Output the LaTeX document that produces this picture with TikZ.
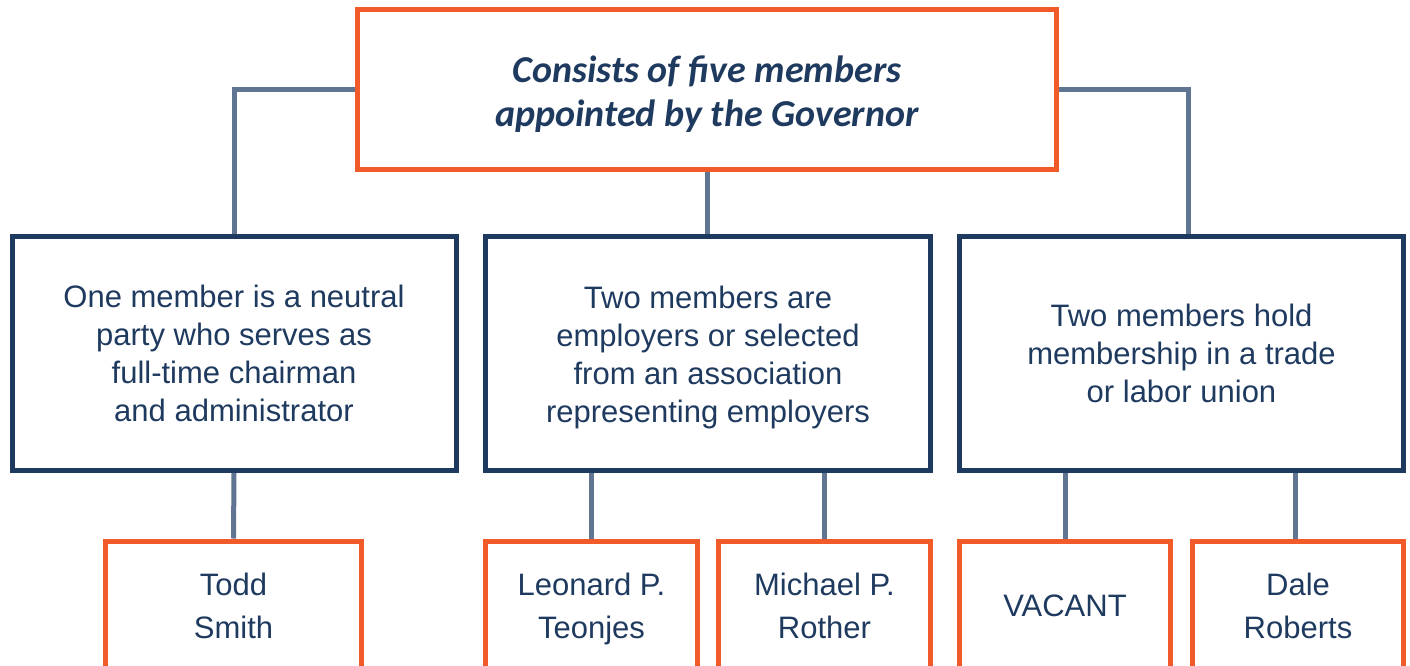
\documentclass[tikz,border=0pt]{standalone}
\usepackage{fontspec}
\setmainfont{Liberation Sans}
\newfontfamily\titlefont{Carlito}
\definecolor{boardorange}{HTML}{F15A29}
\definecolor{boardnavy}{HTML}{1F3A5F}
\definecolor{boardlink}{HTML}{5F7591}
\newcommand{\lift}[1]{\rule{0pt}{#1}}
\begin{document}
\begin{tikzpicture}[x=1pt,y=-1pt,
            headbox/.style={draw=boardorange,line width=5pt,minimum width=699pt,minimum height=160pt,
              text=boardnavy,align=center,font=\titlefont\bfseries\itshape\fontsize{38}{44}\selectfont},
            groupbox/.style={draw=boardnavy,line width=5pt,minimum width=444pt,minimum height=234pt,
              text=boardnavy,align=center,font=\fontsize{31}{38}\selectfont},
            namebox/.style={draw=boardorange,line width=5pt,minimum height=130pt,
              text=boardnavy,align=center,font=\fontsize{31}{43}\selectfont},
            link/.style={draw=boardlink,line width=5pt}]
            \useasboundingbox (0,0) rectangle (1410,666);
            \clip (0,0) rectangle (1410,666);
            % governor box
            \node[headbox] (board) at (707,89.5) {\lift{35pt}Consists of five members\\appointed by the Governor};
            % groups
            \node[groupbox] (neutral) at (234,353.5) {One member is a neutral\\party who serves as\\full-time chairman\\and administrator};
            \node[groupbox,minimum width=445pt] (employers) at (708,353.5) {\lift{31pt}Two members are\\employers or selected\\from an association\\representing employers};
            \node[groupbox] (labor) at (1181.5,353.5) {Two members hold\\membership in a trade\\or labor union};
            % members
            \node[namebox,minimum width=256pt] (smith) at (233.5,606) {Todd\\Smith};
            \node[namebox,minimum width=212pt] (teonjes) at (591.5,606) {\lift{29pt}Leonard P.\\Teonjes};
            \node[namebox,minimum width=212pt] (rother) at (824.5,606) {Michael P.\\Rother};
            \node[namebox,minimum width=211pt] (vacant) at (1065,606) {VACANT};
            \node[namebox,minimum width=211pt] (roberts) at (1298,606) {Dale\\Roberts};
            \coordinate (laborin) at ([xshift=6.5pt]labor.north);
            \coordinate (robertsin) at ([xshift=-3pt]roberts.north);
            \draw[link] (board.west) -| (neutral.north);
            \draw[link] (board.south) -- (board.south |- employers.north);
            \draw[link] (board.east) -| (laborin);
            \draw[link] (neutral.south) -- (smith.north);
            \draw[link] (teonjes.north) -- (teonjes.north |- employers.south);
            \draw[link] (rother.north) -- (rother.north |- employers.south);
            \draw[link] (vacant.north) -- (vacant.north |- labor.south);
            \draw[link] (robertsin) -- (robertsin |- labor.south);
\end{tikzpicture}
\end{document}
